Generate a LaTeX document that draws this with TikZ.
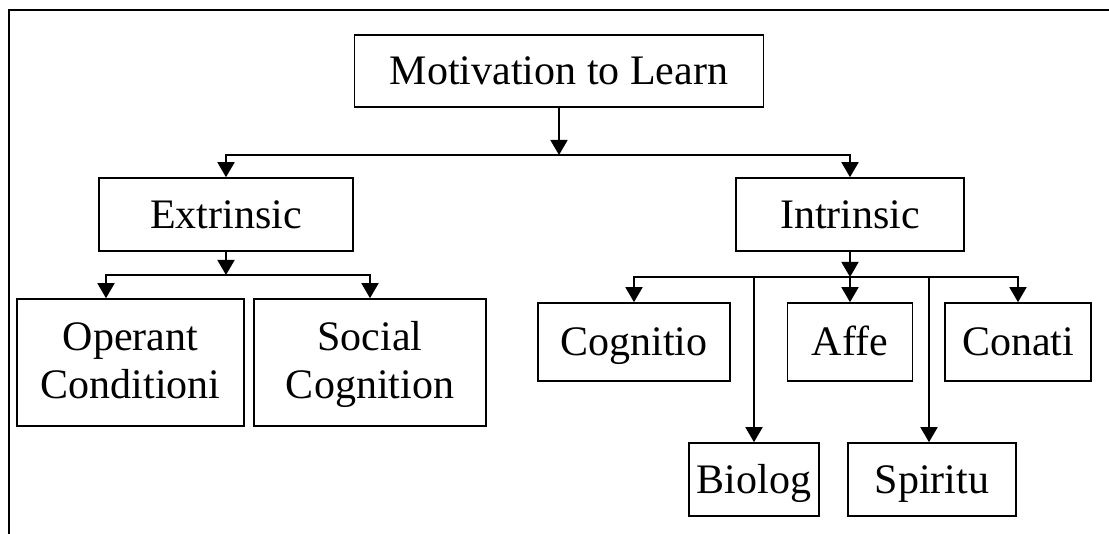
\documentclass[tikz,border=0pt]{standalone}
\usepackage{fontspec}
\setmainfont{Liberation Serif}
\usetikzlibrary{arrows.meta}
\begin{document}
\begin{tikzpicture}[x=1pt,y=-1pt,
  box/.style={draw, line width=1.6pt, inner sep=0pt, align=center,
    font=\fontsize{42}{48}\selectfont, text height=28pt, text depth=0pt},
  twoline/.style={box, text height=72pt},
  link/.style={line width=1.7pt},
  arr/.style={link, -{Triangle[length=15pt,width=17pt]}}]
\useasboundingbox (0,0) rectangle (1109,534);
% frame on the left and top
\draw[line width=2.6pt] (9,534) -- (9,10) -- (1109,10);

% nodes
\node[box, minimum width=409pt, minimum height=72pt] (mot) at (559,71) {Motivation to Learn};
\node[box, minimum width=254pt, minimum height=73pt] (ext) at (226,214.5) {Extrinsic};
\node[box, minimum width=228pt, minimum height=73pt] (int) at (850,214.5) {Intrinsic};
\node[twoline, minimum width=227pt, minimum height=127pt] (op) at (130.5,362.5) {Operant\\Conditioni};
\node[twoline, minimum width=232pt, minimum height=127pt] (soc) at (370,362.5) {Social\\Cognition};
\node[box, minimum width=192pt, minimum height=78pt] (cog) at (634,342) {Cognitio};
\node[box, minimum width=125pt, minimum height=78pt] (affe) at (850,342) {Affe};
\node[box, minimum width=146pt, minimum height=78pt] (con) at (1018,342) {Conati};
\node[box, minimum width=130pt, minimum height=73pt] (bio) at (754,479.5) {Biolog};
\node[box, minimum width=168pt, minimum height=73pt] (spi) at (932,479.5) {Spiritu};

% junction points on the horizontal bars
\coordinate (j0) at (559,155);
\coordinate (j1) at (226,275);
\coordinate (j2) at (850,277);

% top level
\draw[arr] (mot.south) -- (j0);
\draw[arr] (j0) -| (ext.north);
\draw[arr] (j0) -| (int.north);

% extrinsic branch
\draw[arr] (ext.south) -- (j1);
\draw[arr] (j1) -| ([xshift=-24.5pt]op.north);
\draw[arr] (j1) -| (soc.north);

% intrinsic branch
\draw[arr] (int.south) -- (j2);
\draw[arr] (j2) -| (cog.north);
\draw[arr] (j2) -- (affe.north);
\draw[arr] (j2) -| (con.north);
\draw[arr] (j2 -| bio.north) -- (bio.north);
\draw[arr] ([xshift=-3pt]j2 -| spi.north) -- ([xshift=-3pt]spi.north);
\end{tikzpicture}
\end{document}
